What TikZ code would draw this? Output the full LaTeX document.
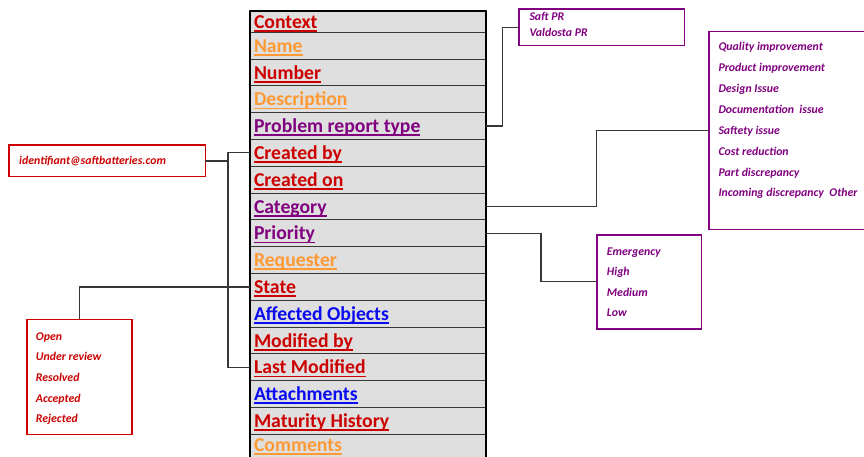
\documentclass[tikz,border=0pt]{standalone}
\usepackage{fontspec}
\setmainfont{Carlito}
\definecolor{cred}{RGB}{204,0,0}
\definecolor{corange}{RGB}{255,153,51}
\definecolor{cpurple}{RGB}{128,0,128}
\definecolor{cblue}{RGB}{10,10,240}
\definecolor{rowgray}{RGB}{223,223,223}
\definecolor{linegray}{RGB}{55,55,55}
\tikzset{
  rowbox/.style={rectangle, draw=linegray, line width=1.1pt, fill=rowgray,
    minimum width=236pt, inner sep=0pt, outer sep=0pt},
  rowtext/.style={anchor=base west, inner sep=0pt, outer sep=0pt,
    font=\fontsize{19.7}{20}\selectfont\bfseries},
  listbox/.style={rectangle, draw=#1, line width=1.6pt, inner sep=0pt, outer sep=0pt},
  listtext/.style={anchor=base west, inner sep=0pt, text=#1,
    font=\fontsize{11.8}{12}\selectfont\bfseries\itshape},
  link/.style={draw=linegray, line width=1.2pt},
}
\begin{document}
\begin{tikzpicture}[x=1pt,y=-1pt]
\clip (0,0) rectangle (864,457);
\fill[white] (0,0) rectangle (864,457);

% attribute table
\foreach \i/\txt/\col in {0/Context/cred, 1/Name/corange, 2/Number/cred,
    3/Description/corange, 4/Problem report type/cpurple, 5/Created by/cred,
    6/Created on/cred, 7/Category/cpurple, 8/Priority/cpurple,
    9/Requester/corange, 10/State/cred, 11/Affected Objects/cblue,
    12/Modified by/cred, 13/Last Modified/cred, 14/Attachments/cblue,
    15/Maturity History/cred, 16/Comments/corange}{
  \pgfmathsetmacro\rtop{\i==0 ? 11 : 32.3+26.8*(\i-1)}
  \pgfmathsetmacro\rh{\i==0 ? 21.3 : 26.8}
  \pgfmathsetmacro\rbase{\i==0 ? 28.6 : (\i==16 ? 451.6 : \rtop+20.0)}
  \node[rowbox, minimum height=\rh pt, anchor=north west] (r\i) at (250,\rtop) {};
  \node[rowtext, text=\col] (t\i) at (254,\rbase) {\txt};
  \draw[\col, line width=1.8pt] ([yshift=-2.6pt]t\i.base west) -- ([yshift=-2.6pt]t\i.base east);
}
\draw[black, line width=1.4pt] (r0.north west) -- (r16.south west);
\draw[black, line width=1.4pt] (r0.north east) -- (r16.south east);
\draw[black, line width=1.2pt] (r0.north west) -- (r0.north east);

% value lists
\node[listbox=cpurple, minimum width=165.3pt, minimum height=36.4pt, anchor=north west] (saft) at (519,9.3) {};
\node[listtext=cpurple] (s1) at (529.3,20.8) {Saft PR};
\node[listtext=cpurple] (s2) at (529.3,36.8) {Valdosta PR};

\node[listbox=cpurple, minimum width=161pt, minimum height=197.6pt, anchor=north west] (cat) at (709,31.7) {};
\foreach \j/\txt in {0/Quality improvement, 1/Product improvement, 2/Design Issue,
    3/Documentation\ \ issue, 4/Saftety issue, 5/Cost reduction,
    6/Part discrepancy, 7/Incoming discrepancy\ \ Other}{
  \node[listtext=cpurple] (c\j) at (718.3,50.8+20.87*\j) {\txt};
}

\node[listbox=cpurple, minimum width=104.6pt, minimum height=94pt, anchor=north west] (prio) at (596.7,234.7) {};
\foreach \j/\txt in {0/Emergency, 1/High, 2/Medium, 3/Low}{
  \node[listtext=cpurple] (p\j) at (606.7,255+20.5*\j) {\txt};
}

\node[listbox=cred, minimum width=196.6pt, minimum height=31.4pt, anchor=north west] (email) at (8.7,145.3) {};
\node[listtext=cred] (e1) at (19,164.6) {identifiant@saftbatteries.com};

\node[listbox=cred, minimum width=105.3pt, minimum height=115pt, anchor=north west] (state) at (26.7,319.3) {};
\foreach \j/\txt in {0/Open, 1/Under review, 2/Resolved, 3/Accepted, 4/Rejected}{
  \node[listtext=cred] (v\j) at (35.7,340.3+20.6*\j) {\txt};
}

% connectors
\coordinate (bk) at (228,0);
\draw[link] (r4.east) -- ++(16.7,0) |- (saft.west);
\draw[link] (r7.east) -| ([xshift=-112.3pt]cat.west) -- (cat.west);
\draw[link] (r8.east) -| ([xshift=-55.7pt]prio.west) -- (prio.west);
\draw[link] (r5.west) -| (bk |- r13.west) -- (r13.west);
\draw[link] (email.east) -- (email.east -| bk);
\draw[link] (r10.west) -| (state.north);
\end{tikzpicture}
\end{document}
